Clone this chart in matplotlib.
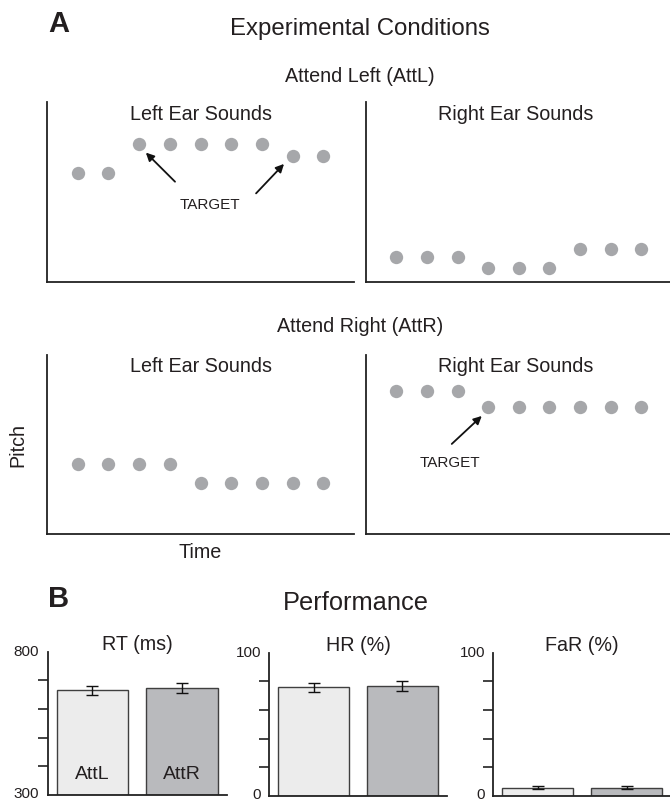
import matplotlib
matplotlib.use("Agg")
import matplotlib.pyplot as plt
import matplotlib.transforms as mtransforms
import numpy as np

plt.rcParams['font.family'] = ['Liberation Sans', 'DejaVu Sans']

# ---------------- data ----------------
time_steps = [1, 2, 3, 4, 5, 6, 7, 8, 9]
attl_left_pitch = [6.06, 6.06, 7.66, 7.66, 7.66, 7.66, 7.66, 7.01, 7.01]
attl_right_pitch = [1.38, 1.38, 1.38, 0.74, 0.74, 0.74, 1.81, 1.81, 1.81]
attr_left_pitch = [3.92, 3.92, 3.92, 3.92, 2.84, 2.84, 2.84, 2.84, 2.84]
attr_right_pitch = [7.99, 7.99, 7.99, 7.12, 7.12, 7.12, 7.12, 7.12, 7.12]

conditions = ["AttL", "AttR"]
rt_ms = [666, 673]
rt_err = [16, 17]
hr_pct = [75.8, 76.7]
hr_err = [3.3, 3.2]
far_pct = [5.6, 5.6]
far_err = [1.1, 1.1]

W, H = 670, 802
fig = plt.figure(figsize=(W / 100, H / 100), dpi=100)

def px_axes(x0, y0, x1, y1):
    return fig.add_axes([x0 / W, 1 - y1 / H, (x1 - x0) / W, (y1 - y0) / H])

def fig_text(x, y, s, **kw):
    fig.text(x / W, 1 - y / H, s, **kw)

SPINE = '#222222'
TXT = '#231f20'
DOT = '#a6a7aa'

def style_pitch_ax(ax):
    ax.set_xlim(0, 10)
    ax.set_ylim(0, 10)
    for sp in ['top', 'right']:
        ax.spines[sp].set_visible(False)
    for sp in ['left', 'bottom']:
        ax.spines[sp].set_linewidth(1.3)
        ax.spines[sp].set_color(SPINE)
    ax.set_xticks([])
    ax.set_yticks([])
    ax.patch.set_alpha(0)

def dots(ax, y):
    ax.plot(time_steps, y, linestyle='none', marker='o', markersize=9.6,
            color=DOT, markeredgewidth=0, clip_on=False)

arrow_kw = dict(arrowstyle='-|>', lw=1.3, color='#111111', mutation_scale=12,
                shrinkA=0, shrinkB=0)

SUB = 14.2

# ---------------- Panel A ----------------
fig_text(59, 24, "A", fontsize=21, fontweight='bold', ha='center', va='center', color=TXT)
fig_text(360, 29, "Experimental Conditions", fontsize=17.3, ha='center', va='center', color=TXT)
fig_text(360, 76, "Attend Left (AttL)", fontsize=SUB, ha='center', va='center', color=TXT)
fig_text(360, 327, "Attend Right (AttR)", fontsize=SUB, ha='center', va='center', color=TXT)

ax1 = px_axes(47, 102, 354, 281.5)
style_pitch_ax(ax1)
dots(ax1, attl_left_pitch)
ax1.text(5, 9.3, "Left Ear Sounds", ha='center', va='center', fontsize=SUB, color=TXT)
ax1.text(5.31, 4.26, "TARGET", ha='center', va='center', fontsize=11, color=TXT)
ax1.annotate("", xy=(3.22, 7.18), xytext=(4.17, 5.56), arrowprops=arrow_kw)
ax1.annotate("", xy=(7.72, 6.55), xytext=(6.81, 4.91), arrowprops=arrow_kw)

ax2 = px_axes(365.7, 102, 672, 281.5)
style_pitch_ax(ax2)
dots(ax2, attl_right_pitch)
ax2.text(4.9, 9.3, "Right Ear Sounds", ha='center', va='center', fontsize=SUB, color=TXT)

ax3 = px_axes(47, 355, 354, 534.3)
style_pitch_ax(ax3)
dots(ax3, attr_left_pitch)
ax3.text(5, 9.35, "Left Ear Sounds", ha='center', va='center', fontsize=SUB, color=TXT)

ax4 = px_axes(365.7, 355, 672, 534.3)
style_pitch_ax(ax4)
dots(ax4, attr_right_pitch)
ax4.text(4.9, 9.35, "Right Ear Sounds", ha='center', va='center', fontsize=SUB, color=TXT)
ax4.text(2.75, 3.99, "TARGET", ha='center', va='center', fontsize=11, color=TXT)
ax4.annotate("", xy=(3.79, 6.6), xytext=(2.81, 5.04), arrowprops=arrow_kw)

fig_text(18, 445, "Pitch", fontsize=SUB, rotation=90, ha='center', va='center', color=TXT)
fig_text(200, 552, "Time", fontsize=SUB, ha='center', va='center', color=TXT)

# ---------------- Panel B ----------------
fig_text(59, 599, "B", fontsize=21, fontweight='bold', ha='center', va='center', color=TXT)
fig_text(356, 603, "Performance", fontsize=18.3, ha='center', va='center', color=TXT)

bar_colors = ['#ececec', '#b9babd']

def bar_panel(box, vals, errs, lo, hi, step, title, show_labels=False):
    ax = px_axes(*box)
    x = np.arange(len(vals))
    ax.bar(x, [v - lo for v in vals], bottom=lo, width=0.8, color=bar_colors,
           edgecolor='#3f3f3f', linewidth=1.0, zorder=2)
    ax.errorbar(x, vals, yerr=errs, fmt='none', ecolor='#111', elinewidth=1.0,
                capsize=4.2, capthick=1.0, zorder=3)
    ax.set_xlim(-0.5, 1.5)
    ax.set_ylim(lo, hi)
    for sp in ['top', 'right']:
        ax.spines[sp].set_visible(False)
    for sp in ['left', 'bottom']:
        ax.spines[sp].set_linewidth(1.3)
        ax.spines[sp].set_color(SPINE)
    ax.set_xticks([])
    ax.set_yticks(np.arange(lo + step, hi, step))
    ax.set_yticklabels([])
    ax.tick_params(axis='y', which='major', direction='out', length=7, width=1.2, color=SPINE)
    # end labels (top and bottom of axis)
    trans = mtransforms.blended_transform_factory(ax.transAxes, ax.transData)
    off = mtransforms.ScaledTranslation(-6 / 72, 0, fig.dpi_scale_trans)
    ax.text(0, hi, str(hi), transform=trans + off, ha='right', va='center',
            fontsize=11, color=TXT, clip_on=False)
    off_lo = mtransforms.ScaledTranslation(-6 / 72, -4.2 / 72, fig.dpi_scale_trans)
    ax.text(0, lo, str(lo), transform=trans + off_lo, ha='right', va='bottom',
            fontsize=11, color=TXT, clip_on=False)
    ax.text(0.5, 1.05, title, transform=ax.transAxes, ha='center', va='center',
            fontsize=SUB, color=TXT)
    ax.patch.set_alpha(0)
    if show_labels:
        for xi, lab in zip(x, conditions):
            ax.text(xi, lo + (hi - lo) * 0.14, lab, ha='center', va='center',
                    fontsize=14, color=TXT, zorder=4)
    return ax

bar_panel((47.7, 651.7, 226.7, 795), rt_ms, rt_err, 300, 800, 100, "RT (ms)", show_labels=True)
bar_panel((269.3, 652.7, 446.7, 795.7), hr_pct, hr_err, 0, 100, 20, "HR (%)")
bar_panel((493.3, 652.7, 671.3, 795.7), far_pct, far_err, 0, 100, 20, "FaR (%)")

fig.savefig("out.png", dpi=100)
